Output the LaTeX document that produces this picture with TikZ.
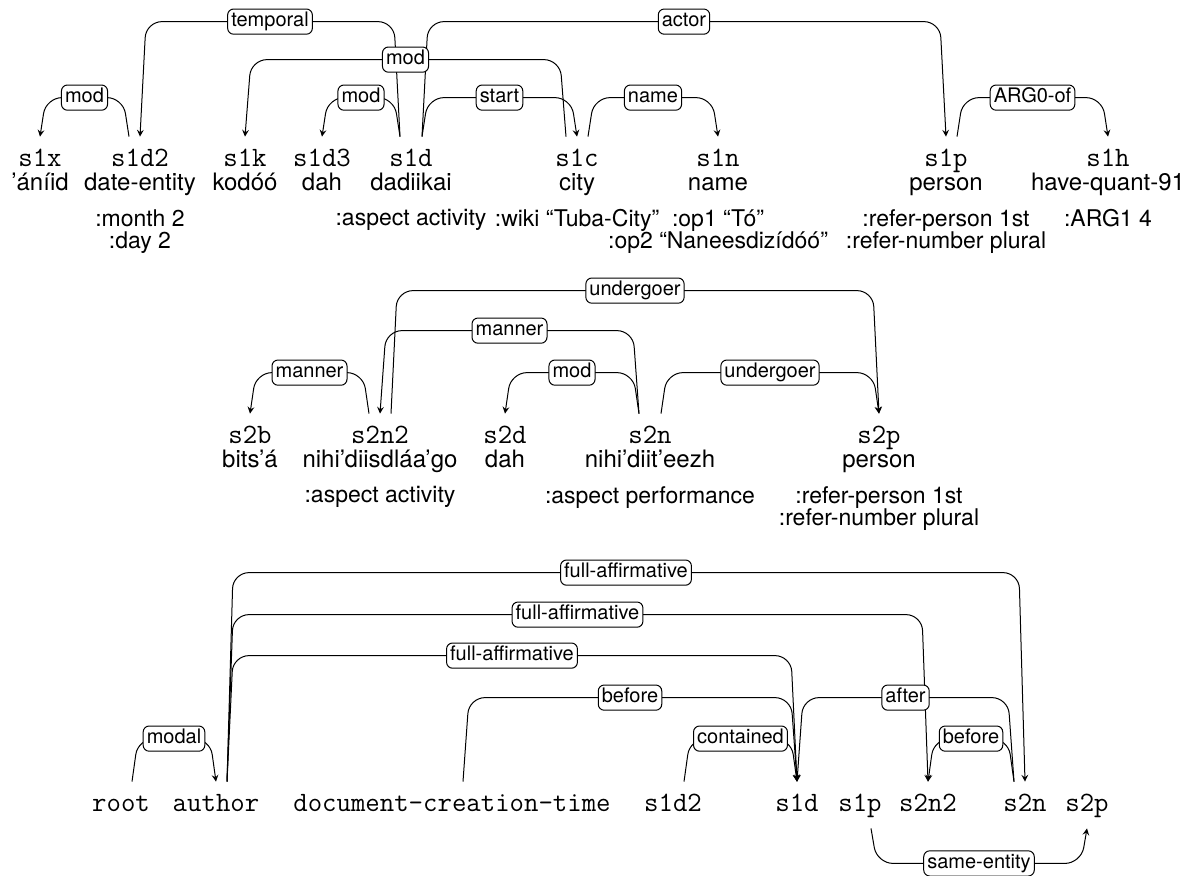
\documentclass[tikz,border=0pt]{standalone}
\usepackage{fontspec}
\setmainfont{TeX Gyre Heros}
\usetikzlibrary{positioning,calc}

\tikzset{
    tok/.style={font=\ttfamily\fontsize{14}{16}\selectfont, inner sep=0pt, text height=8pt, text depth=2pt, minimum height=23pt},
    concept/.style={font=\fontsize{12}{13}\selectfont, inner sep=0pt, text height=8.5pt, text depth=2.5pt},
    attr/.style={font=\fontsize{11.5}{11}\selectfont, inner sep=0pt, align=center},
    lab/.style={draw, fill=white, rounded corners=3pt, font=\fontsize{10}{11}\selectfont, inner sep=1.8pt, text height=7pt, text depth=2pt, midway},
    deparc/.style={->, rounded corners=8pt, line width=0.5pt},
    dep/.style={to path={-- ($(\tikztostart)!3pt!(\tikztotarget)+(0,#1)$) -- ($(\tikztotarget)!3pt!(\tikztostart)+(0,#1)$) \tikztonodes -- (\tikztotarget)}},
}

\begin{document}
\begin{tikzpicture}[x=0.5pt, y=0.5pt, >=stealth]
        \useasboundingbox (0,0) rectangle (1199,-875);
        % first sentence
        \node[tok] (s1x) at (40,-160) {s1x};
        \node[tok] (s1d2) at (140,-160) {s1d2};
        \node[tok] (s1k) at (245,-160) {s1k};
        \node[tok] (s1d3) at (322,-160) {s1d3};
        \node[tok] (s1d) at (411,-160) {s1d};
        \node[tok] (s1c) at (577,-160) {s1c};
        \node[tok] (s1n) at (718,-160) {s1n};
        \node[tok] (s1p) at (946,-160) {s1p};
        \node[tok] (s1h) at (1108,-160) {s1h};
        \node[concept, below=-5pt of s1x] (c1x) {’áníid};
        \node[concept, below=-5pt of s1d2] (c1d2) {date-entity};
        \node[concept, below=-5pt of s1k] (c1k) {kodóó};
        \node[concept, below=-5pt of s1d3] (c1d3) {dah};
        \node[concept, below=-5pt of s1d] (c1d) {dadiikai};
        \node[concept, below=-5pt of s1c] (c1c) {city};
        \node[concept, below=-5pt of s1n] (c1n) {name};
        \node[concept, below=-5pt of s1p] (c1p) {person};
        \node[concept, below=-5pt of s1h] (c1h) {have-quant-91};
        \node[attr, below=6.5pt of c1d2] (a1d2) {:month 2\\:day 2};
        \node[attr, below=6.5pt of c1d] (a1d) {:aspect activity};
        \node[attr, below=6.5pt of c1c] (a1c) {:wiki “Tuba-City”};
        \node[attr, below=6.5pt of c1n] (a1n) {:op1 “Tó”\\:op2 “Naneesdizídóó”};
        \node[attr, below=6.5pt of c1p] (a1p) {:refer-person 1st\\:refer-number plural};
        \node[attr, below=6.5pt of c1h] (a1h) {:ARG1 4};
        \draw[deparc] ([xshift=-5.5pt]s1d.north) to[dep=115] node[lab] {temporal} (s1d2.north);
        \draw[deparc] ([xshift=5.5pt]s1d.north) to[dep=115] node[lab] {actor} (s1p.north);
        \draw[deparc] ([xshift=-5.5pt]s1c.north) to[dep=77] node[lab] {mod} (s1k.north);
        \draw[deparc] ([xshift=-5.5pt]s1d2.north) to[dep=39] node[lab] {mod} (s1x.north);
        \draw[deparc] ([xshift=-5.5pt]s1d.north) to[dep=39] node[lab] {mod} (s1d3.north);
        \draw[deparc] ([xshift=5.5pt]s1d.north) to[dep=39] node[lab] {start} (s1c.north);
        \draw[deparc] ([xshift=5.5pt]s1c.north) to[dep=39] node[lab] {name} (s1n.north);
        \draw[deparc] ([xshift=5.5pt]s1p.north) to[dep=39] node[lab] {ARG0-of} (s1h.north);

        % second sentence
        \node[tok] (s2b) at (250,-437) {s2b};
        \node[tok] (s2n2) at (380,-437) {s2n2};
        \node[tok] (s2d) at (505,-437) {s2d};
        \node[tok] (s2n) at (650,-437) {s2n};
        \node[tok] (s2p) at (879,-437) {s2p};
        \node[concept, below=-5pt of s2b] (c2b) {bits’á};
        \node[concept, below=-5pt of s2n2] (c2n2) {nihi’diisdláa’go};
        \node[concept, below=-5pt of s2d] (c2d) {dah};
        \node[concept, below=-5pt of s2n] (c2n) {nihi’diit’eezh};
        \node[concept, below=-5pt of s2p] (c2p) {person};
        \node[attr, below=6.5pt of c2n2] (a2n2) {:aspect activity};
        \node[attr, below=6.5pt of c2n] (a2n) {:aspect performance};
        \node[attr, below=6.5pt of c2p] (a2p) {:refer-person 1st\\:refer-number plural};
        \draw[deparc] ([xshift=5.5pt]s2n2.north) to[dep=123] node[lab] {undergoer} (s2p.north);
        \draw[deparc] ([xshift=-5.5pt]s2n.north) to[dep=83] node[lab] {manner} (s2n2.north);
        \draw[deparc] ([xshift=-5.5pt]s2n2.north) to[dep=41] node[lab] {manner} (s2b.north);
        \draw[deparc] ([xshift=-5.5pt]s2n.north) to[dep=41] node[lab] {mod} (s2d.north);
        \draw[deparc] ([xshift=5.5pt]s2n.north) to[dep=41] node[lab] {undergoer} (s2p.north);

        % document level
        \node[tok] (root) at (121,-805) {root};
        \node[tok] (author) at (216,-805) {author};
        \node[tok] (dct) at (452,-805) {document-creation-time};
        \node[tok] (ds1d2) at (673,-805) {s1d2};
        \node[tok] (ds1d) at (797,-805) {s1d};
        \node[tok] (ds1p) at (860,-805) {s1p};
        \node[tok] (ds2n2) at (928,-805) {s2n2};
        \node[tok] (ds2n) at (1025,-805) {s2n};
        \node[tok] (ds2p) at (1087,-805) {s2p};
        \draw[deparc] ([xshift=5.5pt]author.north) to[dep=209] node[lab] {full-affirmative} (ds2n.north);
        \draw[deparc] ([xshift=5.5pt]author.north) to[dep=167] node[lab] {full-affirmative} (ds2n2.north);
        \draw[deparc] ([xshift=5.5pt]author.north) to[dep=126] node[lab] {full-affirmative} (ds1d.north);
        \draw[deparc] ([xshift=5.5pt]dct.north) to[dep=84] node[lab] {before} (ds1d.north);
        \draw[deparc] ([xshift=-5.5pt]ds2n.north) to[dep=84] node[lab] {after} (ds1d.north);
        \draw[deparc] ([xshift=5.5pt]root.north) to[dep=43] node[lab] {modal} (author.north);
        \draw[deparc] ([xshift=5.5pt]ds1d2.north) to[dep=43] node[lab] {contained} (ds1d.north);
        \draw[deparc] ([xshift=-5.5pt]ds2n.north) to[dep=43] node[lab] {before} (ds2n2.north);
        % link below the row
        \draw[deparc] ([xshift=5.5pt]ds1p.south) to[dep=-35] node[lab] {same-entity} (ds2p.south);
    \end{tikzpicture}
\end{document}
